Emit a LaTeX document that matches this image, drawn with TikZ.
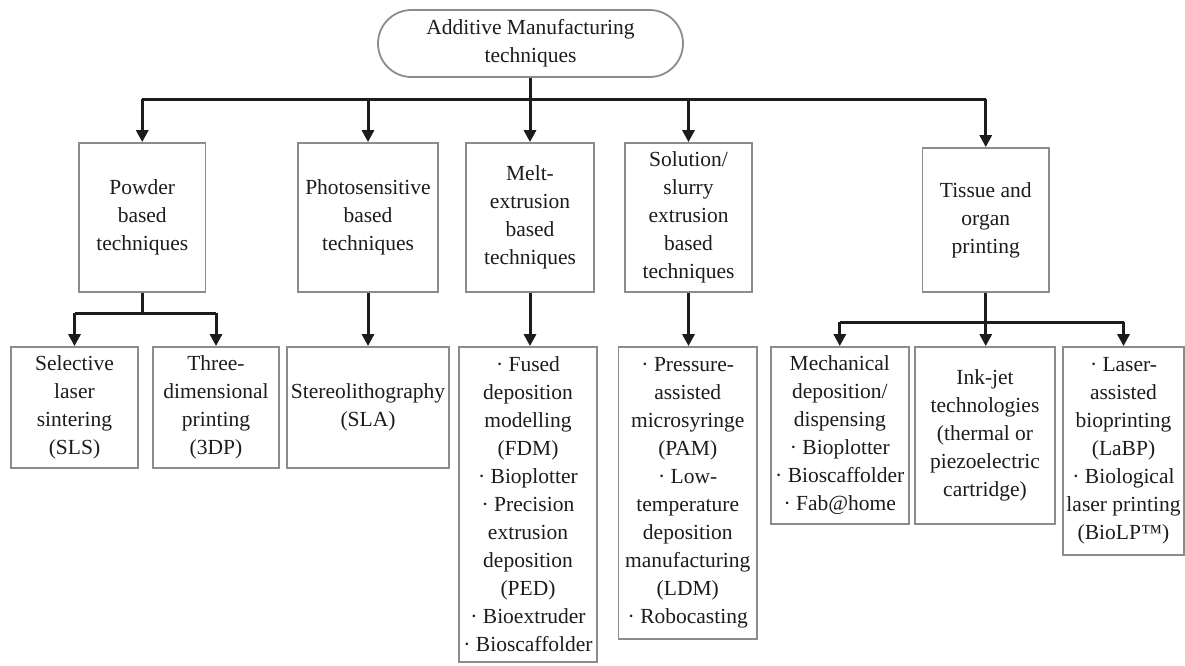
\documentclass[tikz,border=0pt]{standalone}
\usepackage{fontspec}
\setmainfont{Liberation Serif}
\usetikzlibrary{arrows.meta,shapes.misc}
\definecolor{boxline}{HTML}{8C8C8C}
\definecolor{ink}{HTML}{1C1C1C}
\tikzset{
  box/.style={draw=boxline, line width=1.8pt, rectangle, inner sep=0pt, align=center,
    text=ink, font=\fontsize{21.5}{28}\selectfont},
  rootbox/.style={draw=boxline, line width=1.8pt, rounded rectangle, inner sep=0pt, align=center,
    text=ink, font=\fontsize{21.5}{28}\selectfont, minimum width=305pt, minimum height=67pt},
  wire/.style={draw=ink, line width=3pt},
  arr/.style={draw=ink, line width=3pt, -{Triangle[length=12pt,width=12pt]}},
}
\begin{document}
\begin{tikzpicture}[x=1pt,y=-1pt]
\useasboundingbox[fill=white] (0,0) rectangle (1185,665);

% root
\node[rootbox] (root) at (530.5,43.5) {Additive Manufacturing\\techniques};

% level 2
\node[box, minimum width=126.5pt, minimum height=149pt] (pow) at (142.25,217.5) {Powder\\based\\techniques};
\node[box, minimum width=140pt, minimum height=149pt] (pho) at (368,217.5) {Photosensitive\\based\\techniques};
\node[box, minimum width=128pt, minimum height=149pt] (mel) at (530,217.5) {Melt-\\extrusion\\based\\techniques};
\node[box, minimum width=127pt, minimum height=149pt] (sol) at (688.5,217.5) {Solution/\\slurry\\extrusion\\based\\techniques};
\node[box, minimum width=126.5pt, minimum height=144pt] (tis) at (985.75,220) {Tissue and\\organ\\printing};

% level 3
\node[box, minimum width=127pt, minimum height=121pt] (sls) at (74.5,407.5) {Selective\\laser\\sintering\\(SLS)};
\node[box, minimum width=126pt, minimum height=121pt] (tdp) at (216,407.5) {Three-\\dimensional\\printing\\(3DP)};
\node[box, minimum width=162pt, minimum height=121pt] (sla) at (368,407.5) {Stereolithography\\(SLA)};
\node[box, minimum width=138pt, minimum height=315pt] (fdm) at (528,504.5) {· Fused\\deposition\\modelling\\(FDM)\\· Bioplotter\\· Precision\\extrusion\\deposition\\(PED)\\· Bioextruder\\· Bioscaffolder};
\node[box, minimum width=138.5pt, minimum height=292pt] (pam) at (687.75,493) {· Pressure-\\assisted\\microsyringe\\(PAM)\\· Low-\\temperature\\deposition\\manufacturing\\(LDM)\\· Robocasting};
\node[box, minimum width=138.4pt, minimum height=177pt] (mec) at (839.8,435.5) {Mechanical\\deposition/\\dispensing\\· Bioplotter\\· Bioscaffolder\\· Fab@home};
\node[box, minimum width=140pt, minimum height=177pt] (ink) at (985,435.5) {Ink-jet\\technologies\\(thermal or\\piezoelectric\\cartridge)};
\node[box, minimum width=121pt, minimum height=208pt] (las) at (1123.5,451) {· Laser-\\assisted\\bioprinting\\(LaBP)\\· Biological\\laser printing\\(BioLP™)};

% connectors: root
\coordinate (hub) at (530.5,99);
\draw[wire] (root.south) -- (hub);
\draw[wire] (pow.north |- hub) -- (tis.north |- hub);
\draw[arr] (pow.north |- hub) -- (pow.north);
\draw[arr] (pho.north |- hub) -- (pho.north);
\draw[arr] (mel.north |- hub) -- (mel.north);
\draw[arr] (sol.north |- hub) -- (sol.north);
\draw[arr] (tis.north |- hub) -- (tis.north);

% powder branch
\coordinate (phub) at (142.25,313);
\draw[wire] (pow.south) -- (phub);
\draw[wire] (sls.north |- phub) -- (tdp.north |- phub);
\draw[arr] (sls.north |- phub) -- (sls.north);
\draw[arr] (tdp.north |- phub) -- (tdp.north);

% single branches
\draw[arr] (pho.south) -- (pho.south |- sla.north);
\draw[arr] (mel.south) -- (mel.south |- fdm.north);
\draw[arr] (sol.south) -- (sol.south |- pam.north);

% tissue branch
\coordinate (thub) at (985.75,322);
\draw[wire] (tis.south) -- (thub);
\draw[wire] (mec.north |- thub) -- (las.north |- thub);
\draw[arr] (mec.north |- thub) -- (mec.north);
\draw[arr] (thub) -- (thub |- ink.north);
\draw[arr] (las.north |- thub) -- (las.north);
\end{tikzpicture}
\end{document}
